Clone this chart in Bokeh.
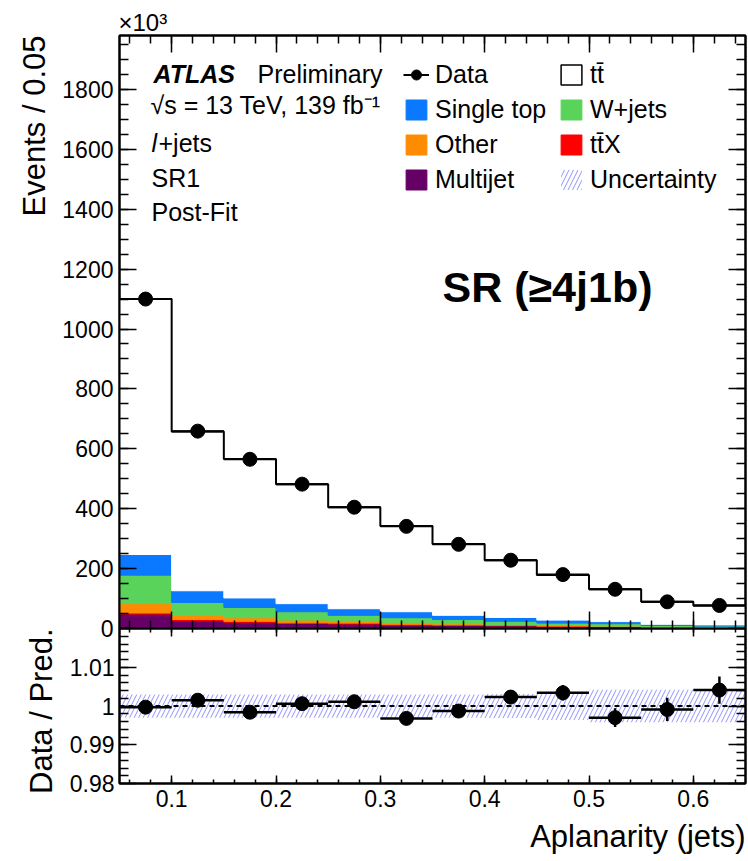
import numpy as np
from bokeh.plotting import figure
from bokeh.models import (Range1d, LinearAxis, FixedTicker, Label, Legend, LegendItem,
                          ColumnDataSource, Span, Title)
from bokeh.layouts import column
from bokeh.embed import file_html
from bokeh.resources import INLINE

# ---------------- data ----------------
bin_lo = [0.05, 0.10, 0.15, 0.20, 0.25, 0.30, 0.35, 0.40, 0.45, 0.50, 0.55, 0.60]
bin_hi = [0.10, 0.15, 0.20, 0.25, 0.30, 0.35, 0.40, 0.45, 0.50, 0.55, 0.60, 0.65]

multijet   = [48, 26, 21, 17, 15, 11, 10, 9, 7, 6, 3, 2]
ttx        = [4, 4, 3, 2, 3, 3, 2, 2, 1, 1, 1, 1]
other      = [31, 14, 12, 9, 7, 5, 4, 2, 2, 1, 2, 1]
wjets      = [95, 43, 34, 28, 19, 17, 14, 11, 8, 8, 4, 4]
single_top = [69, 39, 32, 27, 22, 20, 14, 13, 10, 7, 4, 4]
ttbar      = [853, 532, 464, 399, 339, 286, 238, 191, 151, 108, 75, 65]

data       = [1100, 659, 565, 482, 405, 341, 281, 228, 180, 131, 89, 77]
ratio      = [0.9997, 1.0015, 0.9984, 1.0006, 1.0011, 0.9968, 0.9987, 1.0023, 1.0034, 0.9970, 0.9991, 1.0041]
ratio_err  = [0.0007, 0.0008, 0.0009, 0.0009, 0.0010, 0.0011, 0.0012, 0.0014, 0.0020, 0.0024, 0.0030, 0.0035]
rel_unc    = [0.003, 0.003, 0.003, 0.003, 0.003, 0.003, 0.003, 0.0031, 0.0036, 0.0042, 0.0042, 0.0042]

x_major = [0.1, 0.2, 0.3, 0.4, 0.5, 0.6]
y_major = [0, 200, 400, 600, 800, 1000, 1200, 1400, 1600, 1800]
r_major = [0.98, 0.99, 1.0, 1.01]
r_labels = ["0.98", "0.99", "1", "1.01"]

stack_colors = ["#660066", "#ff0000", "#ff8c00", "#5ad35a", "#0a78ff", "#ffffff"]
HATCH = "#6464ff"

FONT = "Liberation Sans"

# ---------------- derived ----------------
centers = [(a + b) / 2 for a, b in zip(bin_lo, bin_hi)]
bw = bin_hi[0] - bin_lo[0]
total = np.sum([multijet, ttx, other, wjets, single_top, ttbar], axis=0)
x_minor = np.round(np.arange(0.06, 0.65, 0.02), 3).tolist()
y_minor = list(range(0, 2000, 50))
r_minor = np.round(np.arange(0.982, 1.02, 0.002), 4).tolist()


def setup_axis(ax, ticks, minor, tin, mtin, show, standoff=6, overrides=None):
    ax.ticker = FixedTicker(ticks=ticks, minor_ticks=minor)
    ax.major_tick_in = tin
    ax.major_tick_out = 0
    ax.minor_tick_in = mtin
    ax.minor_tick_out = 0
    ax.major_tick_line_width = 1.5
    ax.minor_tick_line_width = 1.5
    ax.major_tick_line_color = "black"
    ax.minor_tick_line_color = "black"
    ax.axis_line_width = 2
    ax.axis_line_color = "black"
    if show:
        ax.major_label_text_font = FONT
        ax.major_label_text_font_size = "23px"
        ax.major_label_text_color = "black"
        ax.major_label_standoff = standoff
        if overrides:
            ax.major_label_overrides = overrides
    else:
        # frame-only axis: ticks without labels
        ax.major_label_overrides = {t: "" for t in ticks}
        ax.major_label_text_font_size = "0px"
        ax.major_label_standoff = 0


def title(p, text, side, size, align, standoff, offset=0):
    p.add_layout(Title(text=text, align=align, text_font=FONT, text_font_size=size,
                       text_font_style="normal", text_color="black",
                       standoff=standoff, offset=offset), side)


def lab(p, x, y, text, size="25px", style="normal", align="left"):
    p.add_layout(Label(x=x, y=y, x_units="screen", y_units="screen", text=text,
                       text_font=FONT, text_font_size=size, text_font_style=style,
                       text_align=align, text_baseline="middle", text_color="black"))


xr = Range1d(0.05, 0.65)

# ---------------- main panel ----------------
p1 = figure(width=748, height=641, x_range=xr, y_range=Range1d(0, 1980),
            output_backend="svg", toolbar_location=None,
            min_border_left=119, min_border_right=3, min_border_top=35, min_border_bottom=13)
p1.xgrid.visible = False
p1.ygrid.visible = False
p1.outline_line_color = "black"
p1.outline_line_width = 2

setup_axis(p1.yaxis[0], y_major, y_minor, 17, 9, True, standoff=6)
setup_axis(p1.xaxis[0], x_major, x_minor, 17, 8, False)
ax_r = LinearAxis()
setup_axis(ax_r, y_major, y_minor, 17, 9, False)
p1.add_layout(ax_r, "right")
ax_t = LinearAxis()
setup_axis(ax_t, x_major, x_minor, 17, 8, False)
p1.add_layout(ax_t, "above")

src = ColumnDataSource(dict(x=centers, multijet=multijet, ttx=ttx, other=other,
                            wjets=wjets, single_top=single_top, ttbar=ttbar))
stack = p1.vbar_stack(["multijet", "ttx", "other", "wjets", "single_top", "ttbar"],
                      x="x", width=bw, source=src,
                      fill_color=stack_colors, line_color=stack_colors, line_width=1)

band1 = p1.quad(left=bin_lo, right=bin_hi,
                bottom=(total * (1 - np.array(rel_unc))).tolist(),
                top=(total * (1 + np.array(rel_unc))).tolist(),
                fill_alpha=0, line_alpha=0, hatch_pattern="/", hatch_color=HATCH,
                hatch_alpha=0.7, hatch_scale=9, hatch_weight=1)

# outline of the tt-bar histogram (zero-height boxes at the stack top, also the legend swatch)
tt_outline = p1.vbar(x=centers, width=bw, bottom=total.tolist(), top=total.tolist(),
                     fill_color="white", line_color="black", line_width=1.5)
p1.step(x=bin_lo + [bin_hi[-1]], y=total.tolist() + [total[-1]], mode="after",
        line_color="black", line_width=2)

data_bars = p1.segment(x0=bin_lo, x1=bin_hi, y0=data, y1=data, line_color="black", line_width=2)
pts = p1.scatter(x=centers, y=data, size=14, fill_color="black", line_color="black")

leg_kw = dict(label_text_font=FONT, label_text_font_size="25px", label_text_color="black",
              glyph_width=26, glyph_height=25, label_height=25, label_standoff=6,
              spacing=6, padding=0, margin=0, border_line_alpha=0, background_fill_alpha=0)
leg1 = Legend(items=[LegendItem(label="Data", renderers=[data_bars, pts]),
                     LegendItem(label="Single top", renderers=[stack[4]]),
                     LegendItem(label="Other", renderers=[stack[2]]),
                     LegendItem(label="Multijet", renderers=[stack[0]])],
              location=(284, 434), **leg_kw)
leg2 = Legend(items=[LegendItem(label="tt\u0304", renderers=[tt_outline]),
                     LegendItem(label="W+jets", renderers=[stack[3]]),
                     LegendItem(label="tt\u0304X", renderers=[stack[1]]),
                     LegendItem(label="Uncertainty", renderers=[band1])],
              location=(439, 434), **leg_kw)
p1.add_layout(leg1)
p1.add_layout(leg2)

lab(p1, 34, 555, "ATLAS", style="bold italic")
lab(p1, 138, 555, "Preliminary")
lab(p1, 31, 524, "\u221as = 13 TeV, 139 fb\u207b\u00b9")
lab(p1, 32, 486, "l", style="italic")
lab(p1, 39, 486, "+jets")
lab(p1, 32, 451, "SR1")
lab(p1, 32, 417, "Post-Fit")
lab(p1, 323, 342, "SR (\u22654j1b)", size="43px", style="bold")

title(p1, "Events / 0.05", "left", "31px", "right", standoff=15)
title(p1, "\u00d710\u00b3", "above", "24px", "left", standoff=0, offset=-1)

# ---------------- ratio panel ----------------
p2 = figure(width=748, height=233, x_range=xr, y_range=Range1d(0.98, 1.02),
            output_backend="svg", toolbar_location=None,
            min_border_left=119, min_border_right=3, min_border_top=0, min_border_bottom=78,
            margin=(-13, 0, 0, 0))
p2.border_fill_alpha = 0
p2.xgrid.visible = False
p2.ygrid.visible = False
p2.outline_line_color = "black"
p2.outline_line_width = 2

setup_axis(p2.yaxis[0], r_major, r_minor, 17, 9, True, standoff=5,
           overrides={k: v for k, v in zip(r_major, r_labels)})
setup_axis(p2.xaxis[0], x_major, x_minor, 8, 4, True, standoff=6)
ax_r2 = LinearAxis()
setup_axis(ax_r2, r_major, r_minor, 17, 9, False)
p2.add_layout(ax_r2, "right")
ax_t2 = LinearAxis()
setup_axis(ax_t2, x_major, x_minor, 8, 4, False)
p2.add_layout(ax_t2, "above")

p2.quad(left=bin_lo, right=bin_hi,
        bottom=[1 - u for u in rel_unc], top=[1 + u for u in rel_unc],
        fill_alpha=0, line_alpha=0, hatch_pattern="/", hatch_color=HATCH,
        hatch_alpha=0.7, hatch_scale=9, hatch_weight=1)
p2.add_layout(Span(location=1.0, dimension="width", line_color="black",
                   line_width=2, line_dash="5 4"))
p2.segment(x0=bin_lo, x1=bin_hi, y0=ratio, y1=ratio, line_color="black", line_width=2.5)
p2.segment(x0=centers, x1=centers,
           y0=[r - e for r, e in zip(ratio, ratio_err)],
           y1=[r + e for r, e in zip(ratio, ratio_err)],
           line_color="black", line_width=2.5)
p2.scatter(x=centers, y=ratio, size=14, fill_color="black", line_color="black")

title(p2, "Data / Pred.", "left", "31px", "right", standoff=15)
title(p2, "Aplanarity (jets)", "below", "31px", "right", standoff=14)

layout = column(p1, p2, spacing=0)
open("out.html", "w").write(file_html(layout, INLINE))
